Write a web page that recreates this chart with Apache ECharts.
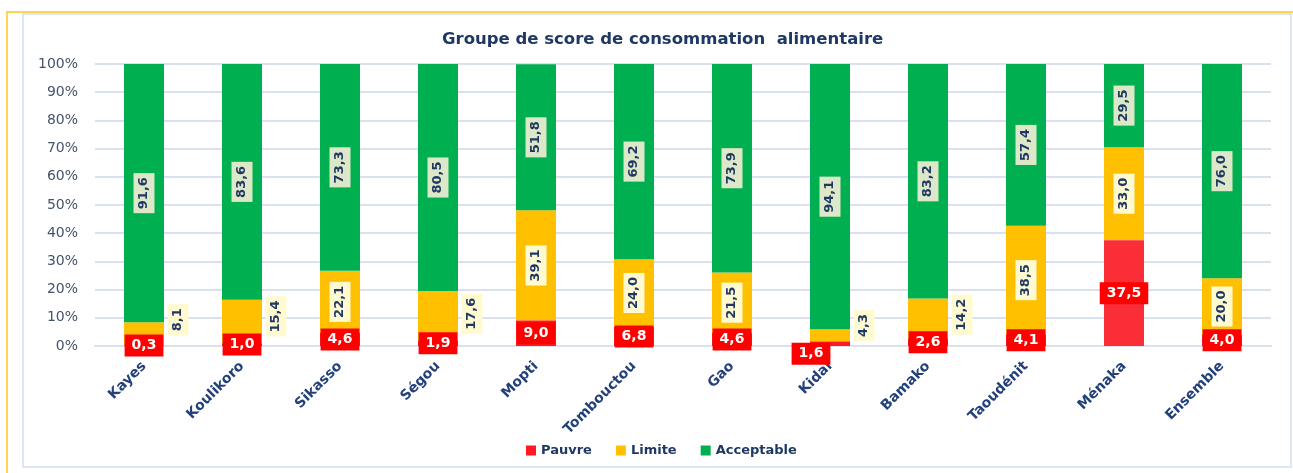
<!DOCTYPE html>
<html>
<head>
<meta charset="utf-8">
<script src="https://cdn.jsdelivr.net/npm/echarts@6/dist/echarts.min.js"></script>
<style>
  html, body { margin: 0; padding: 0; background: #fff; }
  #main { width: 1293px; height: 473px; }
</style>
</head>
<body>
<div id="main"></div>
<script>
// données du graphique
var regions = ['Kayes', 'Koulikoro', 'Sikasso', 'Ségou', 'Mopti', 'Tombouctou', 'Gao', 'Kidal', 'Bamako', 'Taoudénit', 'Ménaka', 'Ensemble'];
var pauvre = [0.3, 1.0, 4.6, 1.9, 9.0, 6.8, 4.6, 1.6, 2.6, 4.1, 37.5, 4.0];
var limite = [8.1, 15.4, 22.1, 17.6, 39.1, 24.0, 21.5, 4.3, 14.2, 38.5, 33.0, 20.0];
var acceptable = [91.6, 83.6, 73.3, 80.5, 51.8, 69.2, 73.9, 94.1, 83.2, 57.4, 29.5, 76.0];

var navy = '#1f3864';
var police = 'DejaVu Sans';

// étiquettes "Limite" placées à droite de la barre : remontée en pixels
// (le label est tourné de 90°, donc le décalage se donne sur son axe x)
var limiteDehors = { 0: 14, 1: 5, 3: 2, 7: 10, 8: 4 };

function virgule(p) {
    return p.value.toFixed(1).replace('.', ',');
}

var myChart = echarts.init(document.getElementById('main'));

var limiteData = limite.map(function (v, i) {
    if (limiteDehors[i] === undefined) return v;
    return {
        value: v,
        label: { position: 'right', distance: 14, offset: [limiteDehors[i], 0] }
    };
});

var pauvreData = pauvre.map(function (v, i) {
    var item = { value: v };
    if (i === 10) item.itemStyle = { color: '#fb2d36' };
    if (i === 7) item.label = { offset: [-19, 10] };
    return item;
});

var labelVertical = {
    show: true,
    position: 'inside',
    rotate: 90,
    align: 'center',
    verticalAlign: 'middle',
    formatter: virgule,
    color: navy,
    fontSize: 13,
    fontWeight: 'bold',
    fontFamily: police,
    lineHeight: 16,
    padding: [3, 4, 2, 4]
};

var option = {
    animation: false,
    title: {
        text: 'Groupe de score de consommation  alimentaire',
        left: 437,
        top: 26,
        textStyle: { color: navy, fontSize: 16.5, fontWeight: 'bold', fontFamily: police }
    },
    graphic: [
        {
            type: 'rect',
            shape: { x: 7, y: 12, width: 1300, height: 470 },
            style: { fill: 'none', stroke: '#ffd44f', lineWidth: 2 },
            silent: true
        },
        {
            type: 'rect',
            shape: { x: 23, y: 14, width: 1268, height: 453 },
            style: { fill: 'none', stroke: '#d6e0f1', lineWidth: 1.5 },
            silent: true
        }
    ],
    legend: {
        data: ['Pauvre', 'Limite', 'Acceptable'],
        left: 521,
        top: 439,
        icon: 'rect',
        itemWidth: 10,
        itemHeight: 10,
        itemGap: 24,
        textStyle: { color: navy, fontSize: 13, fontWeight: 'bold', fontFamily: police }
    },
    grid: { left: 95, right: 22, top: 64, bottom: 127 },
    xAxis: {
        type: 'category',
        data: regions,
        axisLine: { lineStyle: { color: '#d9e1ef', width: 2 } },
        axisTick: { show: false },
        axisLabel: {
            rotate: 45,
            margin: 18,
            color: '#23407a',
            fontSize: 14,
            fontWeight: 'bold',
            fontFamily: police,
            interval: 0
        }
    },
    yAxis: {
        type: 'value',
        min: 0,
        max: 100,
        interval: 10,
        axisLabel: {
            formatter: '{value}%',
            color: '#44546a',
            fontSize: 14,
            margin: 17,
            fontFamily: police
        },
        splitLine: { lineStyle: { color: '#d9e1ef', width: 2 } },
        axisLine: { show: false },
        axisTick: { show: false }
    },
    series: [
        {
            name: 'Pauvre',
            type: 'bar',
            stack: 'total',
            barWidth: 40,
            data: pauvreData,
            itemStyle: { color: '#ff1a24' },
            z: 3,
            label: {
                show: true,
                position: 'inside',
                formatter: virgule,
                color: '#fff',
                backgroundColor: '#ff0000',
                fontSize: 14,
                fontWeight: 'bold',
                fontFamily: police,
                lineHeight: 16,
                padding: [3, 7, 3, 7]
            }
        },
        {
            name: 'Limite',
            type: 'bar',
            stack: 'total',
            data: limiteData,
            itemStyle: { color: '#ffc000' },
            label: Object.assign({}, labelVertical, { backgroundColor: '#fffad0' })
        },
        {
            name: 'Acceptable',
            type: 'bar',
            stack: 'total',
            data: acceptable,
            itemStyle: { color: '#00b050' },
            label: Object.assign({}, labelVertical, { backgroundColor: '#dde8c8' })
        }
    ]
};

myChart.setOption(option);
</script>
</body>
</html>
